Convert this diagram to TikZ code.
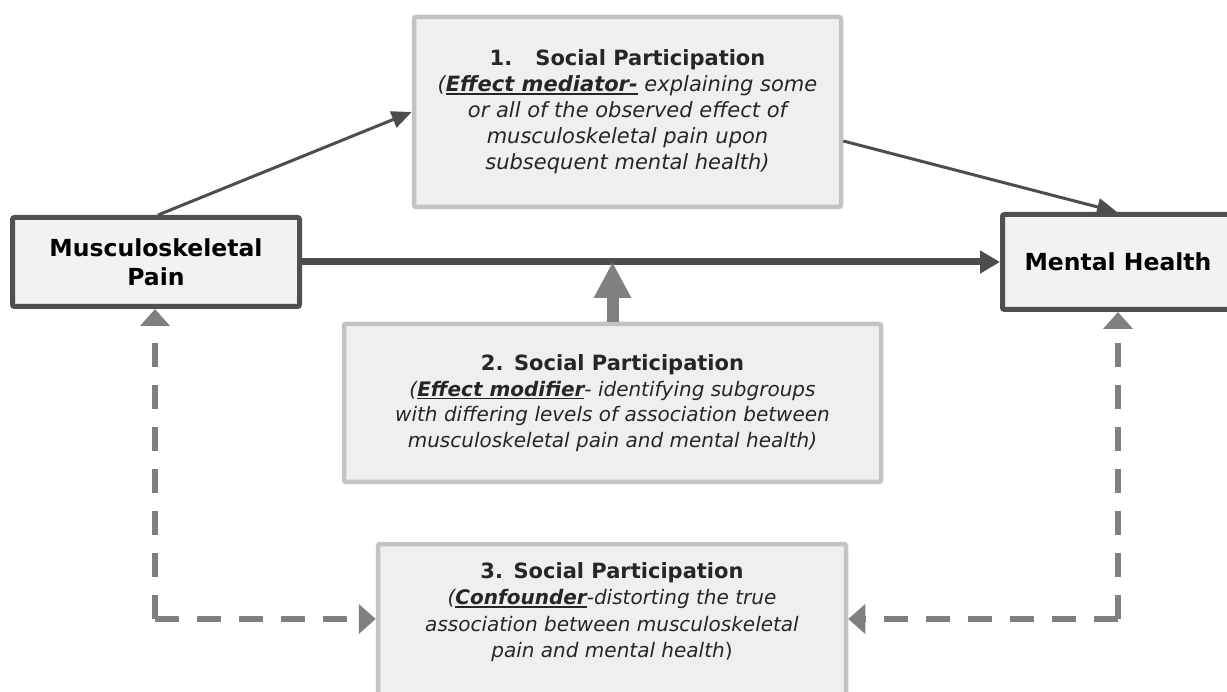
\documentclass[tikz,border=0pt]{standalone}
\usepackage{fontspec}
\setmainfont{DejaVu Sans}
\usetikzlibrary{arrows.meta}
\definecolor{boxfill}{HTML}{EFEFEF}
\definecolor{lightborder}{HTML}{C3C3C3}
\definecolor{darkborder}{HTML}{505050}
\definecolor{darkarrow}{HTML}{4D4D4D}
\definecolor{grayarrow}{HTML}{808080}
\definecolor{txt}{HTML}{262626}
\newcommand\myuline[1]{\setbox0\hbox{#1}\rlap{\rule[-3.2pt]{\wd0}{1.8pt}}\box0{}}
\newcommand\sptitle[1]{{\fontsize{21}{25.5}\selectfont\bfseries\upshape #1}}
\begin{document}
\begin{tikzpicture}[x=1pt,y=-1pt,
  lightbox/.style={draw=lightborder, line width=4.5pt, fill=boxfill, rounded corners=2pt,
    inner sep=0pt, align=center, text=txt, font=\fontsize{20}{25.5}\selectfont\itshape},
  darkbox/.style={draw=darkborder, line width=5pt, fill=boxfill!80!white, rounded corners=2pt,
    inner sep=0pt, align=center, text=black, font=\fontsize{23.5}{29}\selectfont\bfseries},
  bodytext/.style={inner sep=0pt, align=center, text=txt, font=\fontsize{20}{26.5}\selectfont\itshape},
  thinarrow/.style={draw=darkarrow, line width=3pt, -{Triangle[length=20pt,width=17pt]}},
  mainarrow/.style={draw=darkarrow, line width=7pt, -{Triangle[length=20pt,width=22pt]}},
  blockarrow/.style={draw=grayarrow, line width=12pt, -{Triangle[length=36pt,width=35pt]}},
  dasharrow/.style={draw=grayarrow, line width=6pt, dash pattern=on 24pt off 18pt,
    -{Triangle[length=17pt,width=29pt]}}
]
\useasboundingbox (0,0) rectangle (1227,692);

% boxes
\node[lightbox, minimum width=427pt, minimum height=190pt,
      font=\fontsize{21}{26}\selectfont\itshape] (box1) at (627.5,112)
  {\sptitle{1.\hspace{1.1em}Social Participation}\\
   (\myuline{\textbf{Effect mediator-}} explaining some\\
   or all of the observed effect of\\
   musculoskeletal pain upon\\
   subsequent mental health)};

\node[darkbox, minimum width=287pt, minimum height=89pt] (msk) at (156,262)
  {Musculoskeletal\\Pain};

\node[darkbox, minimum width=231pt, minimum height=95pt] (mh) at (1118,262)
  {Mental Health};

\node[lightbox, minimum width=537pt, minimum height=158pt] (box2) at (612.5,403)
  {\sptitle{2.\hspace{0.5em}Social Participation}\\
   (\myuline{\textbf{Effect modifier}}- identifying subgroups\\
   with differing levels of association between\\
   musculoskeletal pain and mental health)};

\node[lightbox, minimum width=468pt, minimum height=176pt] (box3) at (612,632) {};
\node[bodytext] (box3text) at (612,612)
  {\sptitle{3.\hspace{0.5em}Social Participation}\\
   (\myuline{\textbf{Confounder}}-distorting the true\\
   association between musculoskeletal\\
   pain and mental health{\upshape )}};

% connectors
\draw[thinarrow] ([xshift=2pt]msk.north) -- (box1.west);
\draw[thinarrow] ([yshift=-29pt]box1.east) -- ([xshift=-1pt]mh.north);
\draw[mainarrow] (msk.east) -- (mh.west);
\coordinate (mid) at (box2.north |- msk.east);
\draw[blockarrow] (box2.north) -- (mid);

\coordinate (cl) at (155,619);
\coordinate (cr) at (1118,619);
\draw[dasharrow] (cl) -- (cl |- msk.south);
\draw[dasharrow] (cl) -- (cl -| box3.west);
\draw[dasharrow] (cr) -- (cr |- mh.south);
\draw[dasharrow] (cr) -- (cr -| box3.east);
\end{tikzpicture}
\end{document}
